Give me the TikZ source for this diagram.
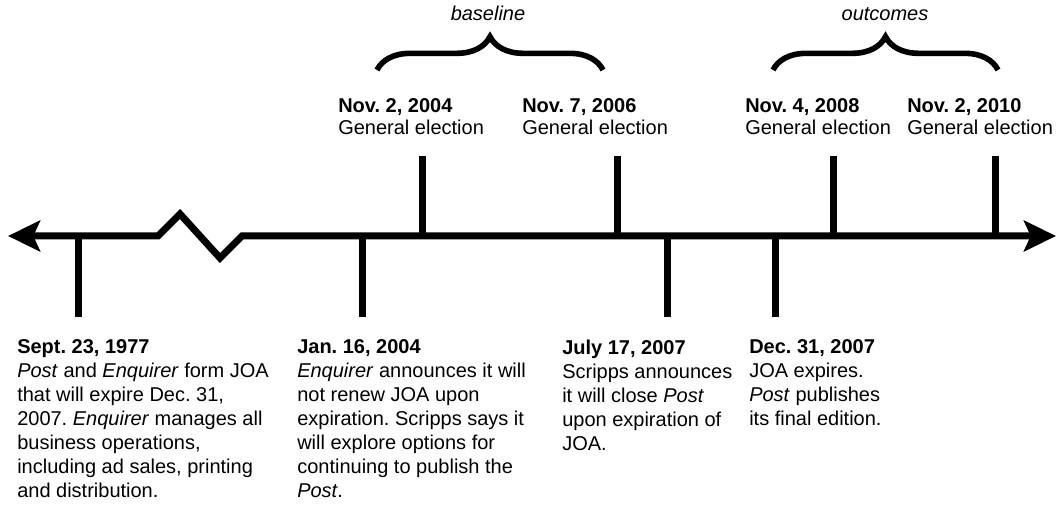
\documentclass[tikz,border=0pt]{standalone}
\usepackage{fontspec}
\setmainfont{Liberation Sans}
\usetikzlibrary{arrows.meta,decorations.pathreplacing}
\frenchspacing

\begin{document}
\begin{tikzpicture}[x=0.75pt,y=-0.75pt,
  >={Stealth[length=24pt,width=23pt,inset=5pt]},
  main/.style={line width=5.25pt},
  date/.style={anchor=north west,inner sep=0pt,align=left,font=\fontsize{15}{18}\selectfont},
  elec/.style={anchor=north west,inner sep=0pt,align=left,font=\fontsize{15}{17}\selectfont},
  brc/.style={decorate,decoration={brace,amplitude=25pt},line width=4.2pt},
  tag/.style={anchor=base,inner sep=0pt,font=\fontsize{15}{18}\selectfont\itshape}]
\useasboundingbox (0,0) rectangle (1056,505);

% time line with the break
\coordinate (l) at (8,236);
\coordinate (r) at (1056,236);
\draw[main,<->] (l) -- (158,236) -- (180,214) -- (220,258) -- (242,236) -- (r);

% ticks below
\coordinate (t1) at (78,236);  \coordinate (e1) at (78,317);
\coordinate (t2) at (362,236); \coordinate (e2) at (362,317);
\coordinate (t3) at (667,236); \coordinate (e3) at (667,317);
\coordinate (t4) at (775,236); \coordinate (e4) at (775,317);
% ticks above
\coordinate (t5) at (422,236); \coordinate (e5) at (422,156);
\coordinate (t6) at (617,236); \coordinate (e6) at (617,156);
\coordinate (t7) at (833,236); \coordinate (e7) at (833,156);
\coordinate (t8) at (995,236); \coordinate (e8) at (995,156);

\draw[main] (t1) -- (e1);
\draw[main] (t2) -- (e2);
\draw[main] (t3) -- (e3);
\draw[main] (t4) -- (e4);
\draw[main] (t5) -- (e5);
\draw[main] (t6) -- (e6);
\draw[main] (t7) -- (e7);
\draw[main] (t8) -- (e8);

% events
\node[date] (d1) at (17,339.5) {\textbf{Sept. 23, 1977}\\
  \textit{Post} and \textit{Enquirer} form JOA\\
  that will expire Dec. 31,\\
  2007. \textit{Enquirer} manages all\\
  business operations,\\
  including ad sales, printing\\
  and distribution.};
\node[date] (d2) at (297,339.5) {\textbf{Jan. 16, 2004}\\
  \textit{Enquirer} announces it will\\
  not renew JOA upon\\
  expiration. Scripps says it\\
  will explore options for\\
  continuing to publish the\\
  \textit{Post}.};
\node[date] (d3) at (562,339.5) {\textbf{July 17, 2007}\\
  Scripps announces\\
  it will close \textit{Post}\\
  upon expiration of\\
  JOA.};
\node[date] (d4) at (749,339.5) {\textbf{Dec. 31, 2007}\\
  JOA expires.\\
  \textit{Post} publishes\\
  its final edition.};

% elections
\node[elec] (n1) at (338,98) {\textbf{Nov. 2, 2004}\\General election};
\node[elec] (n2) at (522,98) {\textbf{Nov. 7, 2006}\\General election};
\node[elec] (n3) at (745,98) {\textbf{Nov. 4, 2008}\\General election};
\node[elec] (n4) at (907,98) {\textbf{Nov. 2, 2010}\\General election};

% braces
\coordinate (b1) at (377,70); \coordinate (b2) at (603,70);
\coordinate (b3) at (773,70); \coordinate (b4) at (998,70);
\draw[brc] (b1) -- (b2);
\draw[brc] (b3) -- (b4);
\node[tag] (bl) at (488,21) {baseline};
\node[tag] (oc) at (885,21) {outcomes};
\end{tikzpicture}
\end{document}
